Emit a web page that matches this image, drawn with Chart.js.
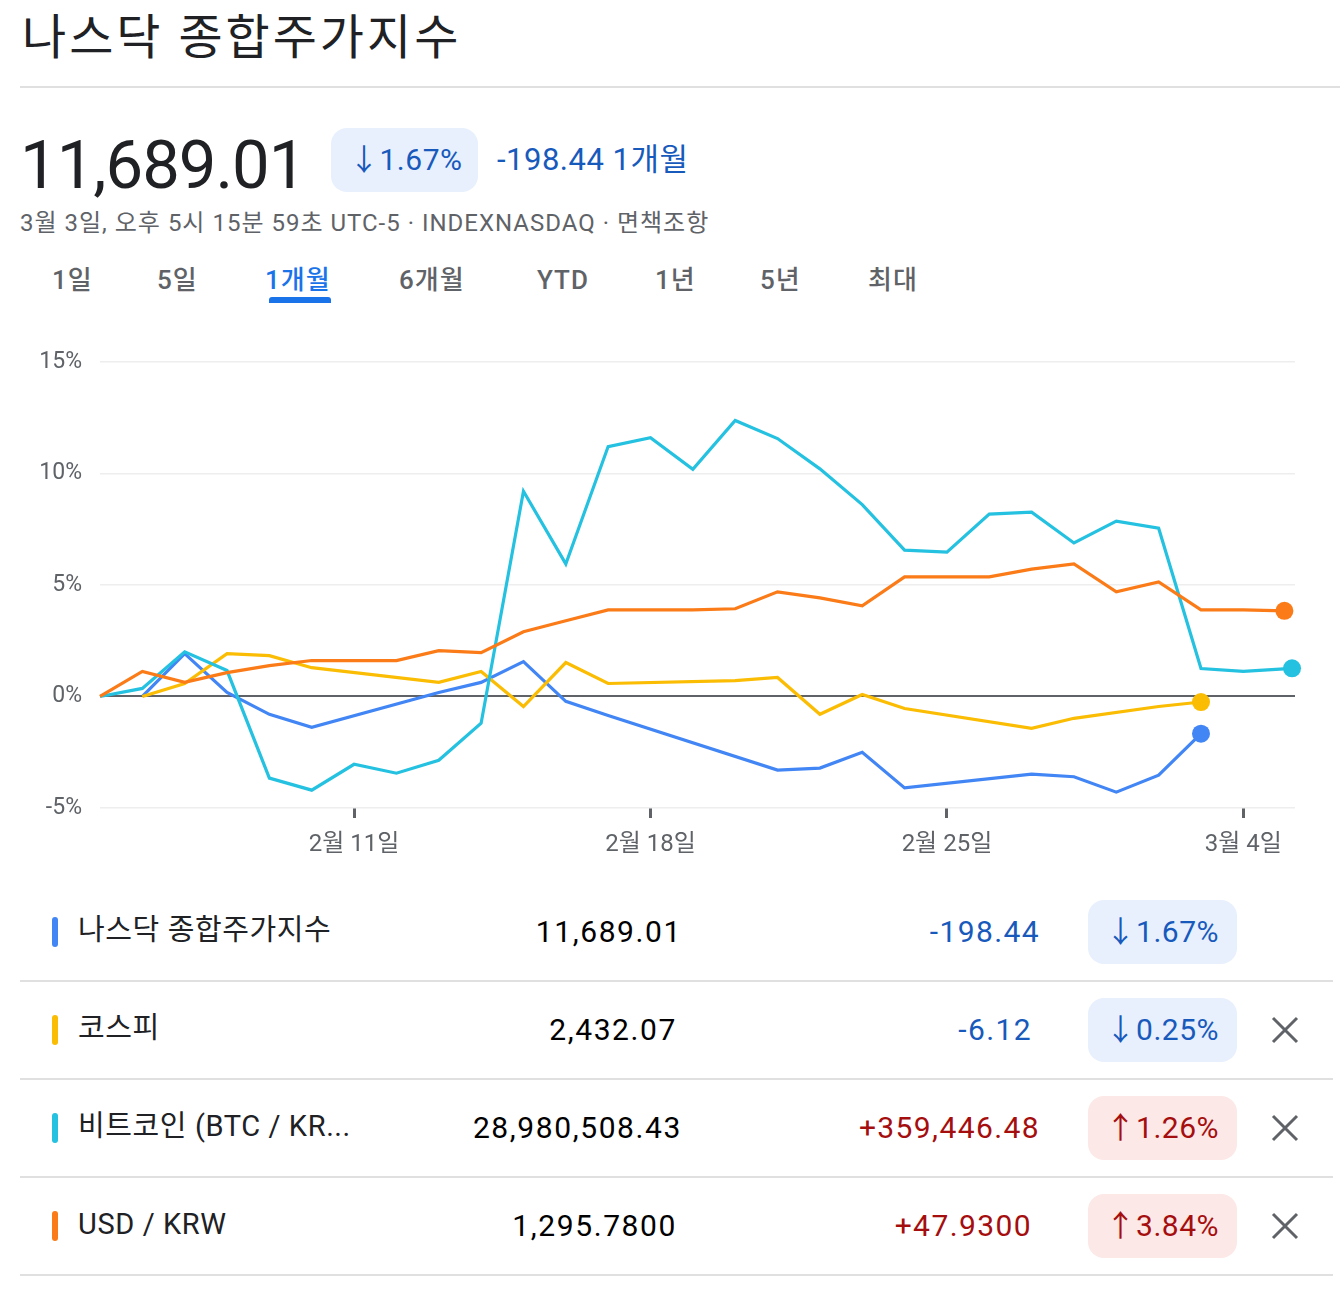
<!DOCTYPE html>
<html lang="ko">
<head>
<meta charset="utf-8">
<script src="https://cdn.jsdelivr.net/npm/chart.js@4.4.0/dist/chart.umd.min.js"></script>
<style>
  html, body { margin: 0; padding: 0; background: #fff; }
  body { width: 1340px; height: 1292px; position: relative; overflow: hidden;
         font-family: Roboto, 'Noto Sans CJK KR', sans-serif; color: #202124; }
  .abs { position: absolute; white-space: nowrap; }
  .mid { height: 60px; line-height: 60px; }
  .blue { color: #185abc; }
  .red { color: #a50e0e; }
  .badge { position: absolute; height: 64px; line-height: 64px; padding: 0 18px;
           border-radius: 16px; font-size: 30px; white-space: nowrap; letter-spacing: 0.5px; }
  .badge.down { background: #e8f0fe; color: #185abc; }
  .badge.up { background: #fce8e6; color: #a50e0e; }
  .tab { position: absolute; top: 260px; height: 40px; line-height: 40px; font-size: 26px;
         letter-spacing: 1px; font-weight: 500; color: #5f6368; }
  .row-line { position: absolute; left: 20px; width: 1313px; height: 2px; background: #e0e0e0; }
  .swatch { position: absolute; left: 52px; width: 6px; height: 30px; border-radius: 3px; }
  #chartBox { position: absolute; left: 0; top: 330px; width: 1340px; height: 540px; }
</style>
</head>
<body>

<div class="abs" style="left:22px; top:8px; font-size:48px; letter-spacing:3px; line-height:60px;">나스닥 종합주가지수</div>
<div class="abs" style="left:20px; top:86px; width:1320px; height:2px; background:#e0e0e0;"></div>

<div class="abs" style="left:20px; top:125px; font-size:67px; line-height:80px; letter-spacing:-1px;">11,689.01</div>
<div class="badge down" style="left:331px; top:128px; width:111px;">↓1.67%</div>
<div class="abs blue mid" style="left:497px; top:130px; font-size:31px; letter-spacing:0.5px;">-198.44 1개월</div>
<div class="abs mid" style="left:20px; top:193px; font-size:24px; letter-spacing:1px; color:#5f6368;">3월 3일, 오후 5시 15분 59초 UTC-5 · INDEXNASDAQ · 면책조항</div>

<div class="tab" style="left:52px;">1일</div>
<div class="tab" style="left:157px;">5일</div>
<div class="tab" style="left:265px; color:#1a73e8;">1개월</div>
<div class="abs" style="left:269px; top:297px; width:62px; height:6px; border-radius:3px 3px 0 0; background:#1a73e8;"></div>
<div class="tab" style="left:399px;">6개월</div>
<div class="tab" style="left:537px;">YTD</div>
<div class="tab" style="left:655px;">1년</div>
<div class="tab" style="left:760px;">5년</div>
<div class="tab" style="left:868px;">최대</div>

<div id="chartBox"><canvas id="compareChart" width="1340" height="540"></canvas></div>

<div id="table"></div>

<script>
// x 값은 2월 기준 날짜 (3월 1일 = 29)
const tickDays = [11, 18, 25, 32];
const tickLabels = ['2월 11일', '2월 18일', '2월 25일', '3월 4일'];

const nasdaqDays = [6, 7, 8, 9, 10, 13, 14, 15, 16, 17, 21, 22, 23, 24, 27, 28, 29, 30, 31];
const nasdaqValues = [0, 1.92, 0.18, -0.8, -1.38, 0.18, 0.63, 1.56, -0.22, -0.85, -3.3, -3.21, -2.5, -4.1, -3.48, -3.6, -4.29, -3.53, -1.67];

const kospiDays = [6, 7, 8, 9, 10, 13, 14, 15, 16, 17, 20, 21, 22, 23, 24, 27, 28, 30, 31];
const kospiValues = [0, 0.58, 1.92, 1.83, 1.29, 0.63, 1.12, -0.45, 1.52, 0.58, 0.71, 0.85, -0.8, 0.09, -0.54, -1.43, -0.98, -0.45, -0.25];

const btcDays = [5, 6, 7, 8, 9, 10, 11, 12, 13, 14, 15, 16, 17, 18, 19, 20, 21, 22, 23, 24, 25, 26, 27, 28, 29, 30, 31, 32, 33.15];
const btcValues = [0, 0.36, 2.0, 1.16, -3.66, -4.2, -3.04, -3.44, -2.86, -1.2, 9.2, 5.94, 11.2, 11.6, 10.18, 12.37, 11.56, 10.2, 8.6, 6.56, 6.47, 8.17, 8.26, 6.88, 7.86, 7.54, 1.25, 1.12, 1.26];

const usdDays = [5, 6, 7, 8, 9, 10, 11, 12, 13, 14, 15, 16, 17, 18, 19, 20, 21, 22, 23, 24, 25, 26, 27, 28, 29, 30, 31, 32, 32.97];
const usdValues = [0, 1.12, 0.63, 1.07, 1.38, 1.61, 1.61, 1.61, 2.05, 1.96, 2.9, 3.39, 3.88, 3.88, 3.88, 3.93, 4.69, 4.42, 4.06, 5.36, 5.36, 5.36, 5.71, 5.94, 4.69, 5.13, 3.88, 3.88, 3.84];

// 표
const rowNames = ['나스닥 종합주가지수', '코스피', '비트코인 (BTC / KR...', 'USD / KRW'];
const rowColors = ['#4285f4', '#fbbc04', '#24c1e0', '#fa7b17'];
const rowPrices = ['11,689.01', '2,432.07', '28,980,508.43', '1,295.7800'];
const rowChanges = ['-198.44', '-6.12', '+359,446.48', '+47.9300'];
const rowPercents = ['1.67%', '0.25%', '1.26%', '3.84%'];
const rowUp = [false, false, true, true];

function toPoints(days, values) {
    return days.map((d, i) => ({ x: d, y: values[i] }));
}

function lastPointRadius(ctx) {
    return ctx.dataIndex === ctx.dataset.data.length - 1 ? 9 : 0;
}

function makeDataset(label, days, values, color) {
    return {
        label: label,
        data: toPoints(days, values),
        borderColor: color,
        backgroundColor: color,
        borderWidth: 3.2,
        pointRadius: lastPointRadius,
        pointHoverRadius: lastPointRadius,
        pointBorderWidth: 0,
        pointBackgroundColor: color,
        tension: 0,
        clip: false
    };
}

Chart.defaults.font.family = "Roboto, 'Noto Sans CJK KR', sans-serif";
Chart.defaults.color = '#5f6368';

const ctx = document.getElementById('compareChart').getContext('2d');
new Chart(ctx, {
    type: 'line',
    data: {
        datasets: [
            makeDataset('USD / KRW', usdDays, usdValues, rowColors[3]),
            makeDataset('비트코인', btcDays, btcValues, rowColors[2]),
            makeDataset('코스피', kospiDays, kospiValues, rowColors[1]),
            makeDataset('나스닥 종합주가지수', nasdaqDays, nasdaqValues, rowColors[0])
        ]
    },
    options: {
        responsive: false,
        animation: false,
        layout: { padding: { top: 30, right: 45, left: 0, bottom: 0 } },
        plugins: { legend: { display: false }, tooltip: { enabled: false } },
        scales: {
            x: {
                type: 'linear',
                min: 5,
                max: 33.22,
                afterFit: scale => { scale.height = 62; },
                afterBuildTicks: scale => { scale.ticks = tickDays.map(v => ({ value: v })); },
                grid: {
                    drawOnChartArea: false,
                    drawTicks: true,
                    tickLength: 10,
                    tickWidth: 3,
                    tickColor: '#5f6368'
                },
                border: { display: false },
                ticks: {
                    autoSkip: false,
                    maxRotation: 0,
                    padding: 13,
                    color: '#5f6368',
                    font: { size: 24 },
                    callback: value => tickLabels[tickDays.indexOf(value)]
                }
            },
            y: {
                min: -5,
                max: 15,
                afterFit: scale => { scale.width = 100; },
                grid: {
                    drawTicks: false,
                    color: c => c.tick.value === 0 ? '#5f6368' : '#eeeeee',
                    lineWidth: c => c.tick.value === 0 ? 2 : 1.5
                },
                border: { display: false },
                ticks: {
                    stepSize: 5,
                    padding: 18,
                    color: '#5f6368',
                    font: { size: 23 },
                    callback: value => value + '%'
                }
            }
        }
    }
});

// 비교 표 그리기
const table = document.getElementById('table');
const changeRight = [1040, 1032, 1040, 1032];
const priceRight = [682, 677, 682, 677];
let html = '';
rowNames.forEach((name, i) => {
    const cy = 932 + i * 98;
    const cls = rowUp[i] ? 'red' : 'blue';
    const arrow = rowUp[i] ? '↑' : '↓';
    html += '<div class="swatch" style="top:' + (cy - 15) + 'px; background:' + rowColors[i] + ';"></div>';
    html += '<div class="abs mid" style="left:78px; top:' + (cy - 32) + 'px; font-size:29px; letter-spacing:0.6px;">' + name + '</div>';
    html += '<div class="abs mid" style="right:' + (1340 - priceRight[i]) + 'px; top:' + (cy - 30) + 'px; font-size:30px; letter-spacing:1.6px; color:#000;">' + rowPrices[i] + '</div>';
    html += '<div class="abs mid ' + cls + '" style="right:' + (1340 - changeRight[i]) + 'px; top:' + (cy - 30) + 'px; font-size:30px; letter-spacing:1.4px;">' + rowChanges[i] + '</div>';
    html += '<div class="badge ' + (rowUp[i] ? 'up' : 'down') + '" style="right:103px; top:' + (cy - 32) + 'px;">' + arrow + rowPercents[i] + '</div>';
    if (i > 0) {
        html += '<svg class="abs" style="left:1271px; top:' + (cy - 14) + 'px;" width="28" height="28" viewBox="0 0 28 28">' +
            '<path d="M2 2 L26 26 M26 2 L2 26" stroke="#5f6368" stroke-width="3"/></svg>';
    }
    html += '<div class="row-line" style="top:' + (cy + 48) + 'px;"></div>';
});
table.innerHTML = html;
</script>
</body>
</html>
